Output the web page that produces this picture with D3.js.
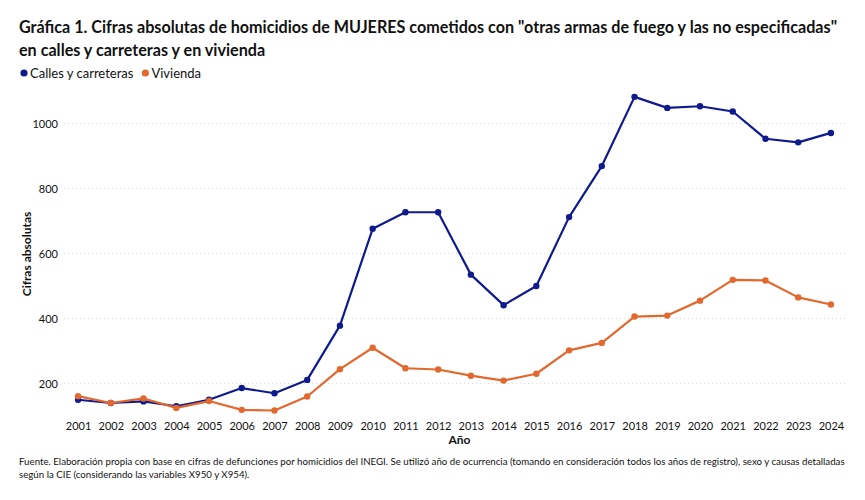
<!DOCTYPE html>
<html>
<head>
<meta charset="utf-8">
<script src="https://cdn.jsdelivr.net/npm/d3@7"></script>
<style>
  body { margin: 0; background: #fff; }
  text { font-family: Lato, "Open Sans", sans-serif; fill: #111; }
  .grid line { stroke: #d9d9d9; stroke-dasharray: 1,3; }
  .axis path, .axis line { display: none; }
</style>
</head>
<body>
<div id="chart"></div>
<script>
// datos
var years = ["2001","2002","2003","2004","2005","2006","2007","2008","2009","2010","2011","2012",
             "2013","2014","2015","2016","2017","2018","2019","2020","2021","2022","2023","2024"];
var calles = [150, 140, 145, 130, 150, 186, 170, 211, 378, 676, 727, 727,
              535, 441, 500, 712, 869, 1082, 1048, 1053, 1037, 953, 942, 971];
var vivienda = [161, 140, 154, 125, 146, 119, 117, 160, 244, 310, 247, 243,
                224, 209, 230, 302, 325, 406, 409, 455, 519, 517, 465, 443];
var yTicks = [200, 400, 600, 800, 1000];
var seriesNames = ["Calles y carreteras", "Vivienda"];
var colors = ["#0f1a8e", "#e2682e"];

var W = 865, H = 500;
var margin = {top: 92, right: 20, bottom: 84, left: 64};
var width = W - margin.left - margin.right,
    height = H - margin.top - margin.bottom;

var svg = d3.select("#chart").append("svg")
    .attr("width", W)
    .attr("height", H);

// titulo
var t1 = svg.append("text")
    .attr("x", 19).attr("y", 33)
    .style("font-weight", "bold").style("font-size", "17px")
    .text('Gráfica 1. Cifras absolutas de homicidios de MUJERES cometidos con "otras armas de fuego y las no especificadas"');
// ajustar tamaño al ancho de la original
var fs = 17 * 819 / t1.node().getComputedTextLength();
t1.style("font-size", fs + "px");
svg.append("text")
    .attr("x", 19).attr("y", 56)
    .style("font-weight", "bold").style("font-size", fs + "px")
    .text("en calles y carreteras y en vivienda");

// leyenda
var lx = 19;
seriesNames.forEach(function(name, i) {
  svg.append("circle").attr("cx", lx + 5).attr("cy", 73).attr("r", 3.6).attr("fill", colors[i]);
  var lt = svg.append("text").attr("x", lx + 11).attr("y", 78)
      .style("font-size", "13px").text(name);
  lx += 11 + lt.node().getComputedTextLength() + 7;
});

var g = svg.append("g")
    .attr("transform", "translate(" + margin.left + "," + margin.top + ")");

var xScale = d3.scalePoint()
    .domain(years)
    .range([0, width])
    .padding(0.43);

var yScale = d3.scaleLinear()
    .domain([100, 1100])
    .range([height, height - 1000 * 0.325]);

// lineas de cuadricula
g.append("g")
    .attr("class", "grid")
  .selectAll("line")
    .data(yTicks)
  .enter().append("line")
    .attr("x1", 0).attr("x2", width)
    .attr("y1", function(d) { return yScale(d); })
    .attr("y2", function(d) { return yScale(d); });

g.append("g")
    .attr("class", "y axis")
    .call(d3.axisLeft(yScale).tickValues(yTicks).tickSize(0).tickPadding(6).tickFormat(d3.format("d")))
    .selectAll("text").style("font-size", "11px");

g.append("g")
    .attr("class", "x axis")
    .attr("transform", "translate(0," + height + ")")
    .call(d3.axisBottom(xScale).tickSize(0).tickPadding(6))
    .selectAll("text").style("font-size", "11px");

// titulos de ejes
svg.append("text")
    .attr("transform", "translate(31," + (margin.top + height / 2) + ") rotate(-90)")
    .attr("text-anchor", "middle")
    .style("font-weight", "bold").style("font-size", "12px")
    .text("Cifras absolutas");

svg.append("text")
    .attr("x", margin.left + width / 2 + 5).attr("y", 444)
    .attr("text-anchor", "middle")
    .style("font-weight", "bold").style("font-size", "12px")
    .text("Año");

// series
var line = d3.line()
    .x(function(d, i) { return xScale(years[i]); })
    .y(function(d) { return yScale(d); });

// azul primero y naranja encima
[calles, vivienda].forEach(function(values, k) {
  g.append("path")
      .datum(values)
      .attr("fill", "none")
      .attr("stroke", colors[k])
      .attr("stroke-width", 2.2)
      .attr("stroke-linejoin", "round")
      .attr("d", line);

  g.selectAll(".dot" + k)
      .data(values)
    .enter().append("circle")
      .attr("class", "dot" + k)
      .attr("cx", function(d, i) { return xScale(years[i]); })
      .attr("cy", function(d) { return yScale(d); })
      .attr("r", 3.2)
      .attr("fill", colors[k]);
});

// fuente
var f1 = svg.append("text")
    .attr("x", 19).attr("y", 465)
    .style("font-size", "10.5px")
    .text("Fuente. Elaboración propia con base en cifras de defunciones por homicidios del INEGI. Se utilizó año de ocurrencia (tomando en consideración todos los años de registro), sexo y causas detalladas");
var ffs = 10.5 * 826 / f1.node().getComputedTextLength();
f1.style("font-size", ffs + "px");
svg.append("text")
    .attr("x", 19).attr("y", 478)
    .style("font-size", ffs + "px")
    .text("según la CIE (considerando las variables X950 y X954).");
</script>
</body>
</html>
